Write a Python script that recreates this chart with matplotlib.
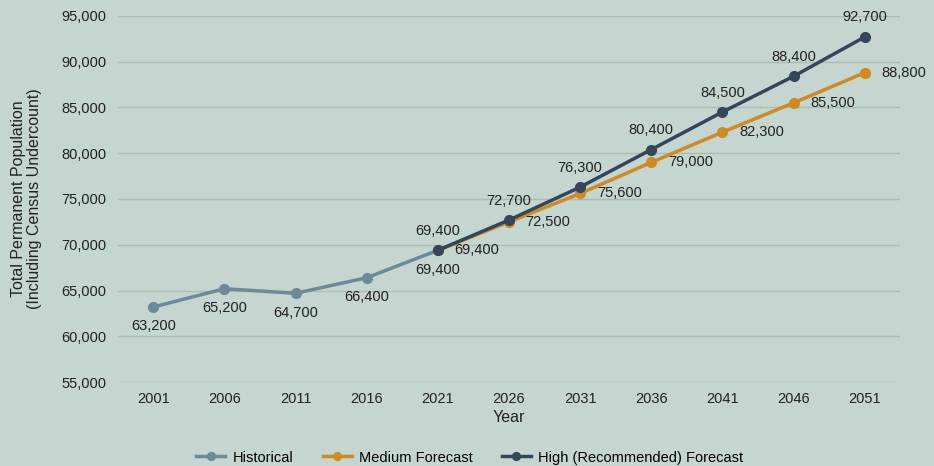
import matplotlib.pyplot as plt

plt.rcParams['font.family'] = ['Liberation Sans', 'DejaVu Sans']

years = [2001, 2006, 2011, 2016, 2021, 2026, 2031, 2036, 2041, 2046, 2051]
historical = [63200, 65200, 64700, 66400, 69400]
medium = [69400, 72500, 75600, 79000, 82300, 85500, 88800]
high = [69400, 72700, 76300, 80400, 84500, 88400, 92700]

bg = '#c5d5cf'
c_hist = '#6d8a98'
c_med = '#cf8a22'
c_high = '#34475a'
txt = '#222222'

fig = plt.figure(figsize=(9.34, 4.66), dpi=100, facecolor=bg)
ax = fig.add_axes([0.126, 0.180, 0.838, 0.786], facecolor=bg)

xh = list(range(len(historical)))
xf = list(range(4, 4 + len(medium)))

ax.plot(xh, historical, color=c_hist, lw=2.5, marker='o', ms=7, label='Historical', zorder=3)
ax.plot(xf, medium, color=c_med, lw=2.5, marker='o', ms=7, label='Medium Forecast', zorder=3)
ax.plot(xf, high, color=c_high, lw=2.5, marker='o', ms=7,
        label='High (Recommended) Forecast', zorder=4)

fs = 10.5
for x, v in zip(xh, historical):
    ax.annotate(f'{v:,}', (x, v), xytext=(0, -14), textcoords='offset points',
                ha='center', va='center', fontsize=fs, color=txt)
for x, v in zip(xf, medium):
    ax.annotate(f'{v:,}', (x, v), xytext=(12, 0), textcoords='offset points',
                ha='left', va='center', fontsize=fs, color=txt)
for x, v in zip(xf, high):
    ax.annotate(f'{v:,}', (x, v), xytext=(0, 14), textcoords='offset points',
                ha='center', va='center', fontsize=fs, color=txt)

ax.set_xlim(-0.5, len(years) - 0.5)
ax.set_ylim(55000, 95000)
ax.set_yticks(range(55000, 95001, 5000))
ax.set_yticklabels([f'{v:,}' for v in range(55000, 95001, 5000)])
ax.set_xticks(range(len(years)))
ax.set_xticklabels(years)
ax.tick_params(length=0, labelsize=fs, colors=txt, pad=8)
ax.tick_params(axis='x', pad=7)
ax.grid(axis='y', color='#a9bcb5', lw=1)
ax.set_axisbelow(True)
for s in ax.spines.values():
    s.set_visible(False)

ax.set_xlabel('Year', fontsize=11.5, color=txt, labelpad=3)
ax.set_ylabel('Total Permanent Population\n(Including Census Undercount)', fontsize=11.5,
              color=txt, labelpad=14, linespacing=1.1)

fig.legend(loc='lower center', bbox_to_anchor=(0.503, -0.025), ncol=3, frameon=False,
           fontsize=fs, handlelength=2.0, handletextpad=0.5, columnspacing=2.0,
           markerscale=0.8)

fig.savefig('out.png', dpi=100, facecolor=bg)
